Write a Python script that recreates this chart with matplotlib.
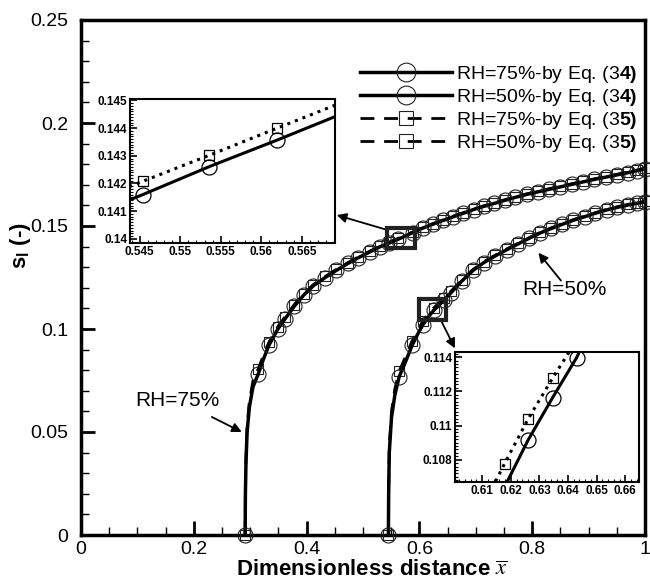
import matplotlib
matplotlib.use("Agg")
import matplotlib.pyplot as plt
from matplotlib.patches import Rectangle
from matplotlib.ticker import MultipleLocator, FuncFormatter

plt.rcParams['font.family'] = ['Liberation Sans', 'DejaVu Sans']
plt.rcParams['mathtext.fontset'] = 'custom'
plt.rcParams['mathtext.rm'] = 'Liberation Sans'
plt.rcParams['mathtext.bf'] = 'Liberation Sans:bold'
plt.rcParams['mathtext.it'] = 'Liberation Sans:italic'

# ---- main curves ----
x75 = [0.291, 0.2915, 0.2925, 0.2945, 0.2985, 0.305, 0.314, 0.323, 0.333, 0.349,
       0.362, 0.378, 0.395, 0.412, 0.433, 0.453, 0.473, 0.491, 0.512, 0.530,
       0.5454, 0.5536, 0.5619, 0.570, 0.588, 0.606, 0.624, 0.642, 0.660, 0.678,
       0.696, 0.714, 0.733, 0.752, 0.770, 0.790, 0.810, 0.830, 0.850, 0.870,
       0.890, 0.910, 0.930, 0.950, 0.970, 0.985, 1.000]
y75_eq34 = [0.0, 0.020, 0.035, 0.050, 0.062, 0.072, 0.078, 0.085, 0.092, 0.100,
            0.105, 0.111, 0.1165, 0.121, 0.1250, 0.1285, 0.1318, 0.1345, 0.1374, 0.1399,
            0.1416, 0.1426, 0.14356, 0.1445, 0.1468, 0.1490, 0.1509, 0.1527, 0.1545, 0.1562,
            0.1580, 0.1595, 0.1610, 0.1625, 0.1639, 0.1653, 0.1666, 0.1678, 0.1690, 0.1702,
            0.1714, 0.1726, 0.1737, 0.1748, 0.1759, 0.1768, 0.1778]
y75_eq35 = [0.0, 0.022, 0.038, 0.053, 0.065, 0.075, 0.0805, 0.087, 0.0935, 0.1012,
            0.106, 0.1118, 0.1172, 0.1216, 0.1255, 0.1290, 0.1322, 0.1349, 0.1378, 0.1403,
            0.14208, 0.14302, 0.14399, 0.1449, 0.1471, 0.1493, 0.1512, 0.1530, 0.1548, 0.1565,
            0.1583, 0.1598, 0.1613, 0.1628, 0.1642, 0.1656, 0.1669, 0.1681, 0.1693, 0.1705,
            0.1717, 0.1729, 0.1740, 0.1751, 0.1762, 0.1771, 0.1781]
marks75 = [0, 6, 8, 9, 10, 11, 12, 13, 14, 15, 16, 17, 18, 19, 20, 22] + list(range(24, 47))

x50 = [0.545, 0.5455, 0.5466, 0.5505, 0.5565, 0.564, 0.576, 0.587, 0.597, 0.606,
       0.618, 0.626, 0.635, 0.643, 0.656, 0.675, 0.695, 0.714, 0.734, 0.755,
       0.775, 0.795, 0.814, 0.834, 0.853, 0.873, 0.893, 0.912, 0.932, 0.950,
       0.970, 0.985, 1.000]
y50_eq34 = [0.0, 0.020, 0.040, 0.057, 0.068, 0.0767, 0.0845, 0.0920, 0.0975, 0.1020,
            0.1067, 0.1092, 0.1116, 0.1140, 0.1176, 0.1232, 0.1284, 0.1322, 0.1354, 0.1385,
            0.1413, 0.1441, 0.1466, 0.1488, 0.1508, 0.1528, 0.1545, 0.1562, 0.1578, 0.1590,
            0.1602, 0.1610, 0.1617]
y50_eq35 = [0.0, 0.023, 0.043, 0.060, 0.071, 0.0795, 0.087, 0.0942, 0.0995, 0.1038,
            0.1080, 0.1104, 0.1128, 0.1150, 0.1184, 0.1238, 0.1289, 0.1326, 0.1358, 0.1389,
            0.1416, 0.1444, 0.1469, 0.1491, 0.1511, 0.1531, 0.1548, 0.1565, 0.1581, 0.1593,
            0.1605, 0.1613, 0.1620]
marks50 = [0, 5, 7, 9, 11, 13] + list(range(14, 33))

labels = ["RH=75%-by Eq. (3$\\mathbf{4)}$", "RH=50%-by Eq. (3$\\mathbf{4)}$",
          "RH=75%-by Eq. (3$\\mathbf{5)}$", "RH=50%-by Eq. (3$\\mathbf{5)}$"]

# ---- inset data ----
in1_x34 = [0.540, 0.5454, 0.5536, 0.5619, 0.570]
in1_y34 = [0.14096, 0.1416, 0.14261, 0.14356, 0.14452]
in1_x35 = [0.540, 0.5454, 0.5536, 0.5619, 0.570]
in1_y35 = [0.14145, 0.14208, 0.14302, 0.14399, 0.14493]

in2_x34 = [0.6175, 0.6186, 0.6261, 0.6346, 0.6430, 0.6445]
in2_y34 = [0.1063, 0.10667, 0.10917, 0.11163, 0.11397, 0.1145]
in2_x35 = [0.6135, 0.6145, 0.6178, 0.6261, 0.6346, 0.6415]
in2_y35 = [0.1063, 0.10668, 0.10777, 0.1104, 0.11277, 0.1146]

fmt = FuncFormatter(lambda v, p: "%g" % round(v, 6))

fig = plt.figure(figsize=(6.5, 5.8), dpi=100)
ax = fig.add_axes([81 / 650, 45 / 580, 564 / 650, 515 / 580])

ms_c, ms_s = 10.8, 7.5
dash = (0, (5, 3.5))
l1, = ax.plot(x75, y75_eq34, '-', color='k', lw=2.5, marker='o', ms=ms_c, mfc='none',
              mec='#222222', mew=0.8, markevery=marks75, zorder=4, clip_on=False)
l2, = ax.plot(x50, y50_eq34, '-', color='k', lw=2.5, marker='o', ms=ms_c, mfc='none',
              mec='#222222', mew=0.8, markevery=marks50, zorder=4, clip_on=False)
l3, = ax.plot(x75, y75_eq35, color='k', ls=dash, lw=2, marker='s', ms=ms_s, mfc='none',
              mec='#222222', mew=0.8, markevery=marks75, zorder=3, clip_on=False)
l4, = ax.plot(x50, y50_eq35, color='k', ls=dash, lw=2, marker='s', ms=ms_s, mfc='none',
              mec='#222222', mew=0.8, markevery=marks50, zorder=3, clip_on=False)

ax.set_xlim(0, 1)
ax.set_ylim(0, 0.25)
ax.xaxis.set_major_locator(MultipleLocator(0.2))
ax.xaxis.set_minor_locator(MultipleLocator(0.05))
ax.yaxis.set_major_locator(MultipleLocator(0.05))
ax.yaxis.set_minor_locator(MultipleLocator(0.01))
ax.xaxis.set_major_formatter(fmt)
ax.yaxis.set_major_formatter(fmt)
ax.tick_params(which='major', direction='in', length=10, width=2, labelsize=14)
ax.tick_params(which='minor', direction='in', length=6, width=1)
ax.tick_params(axis='y', which='major', pad=9)
ax.tick_params(axis='x', which='major', pad=4)
for s in ax.spines.values():
    s.set_linewidth(2.5)

ax.set_xlabel("Dimensionless distance $\\overline{x}$", fontsize=16, fontweight='bold',
              math_fontfamily='stix')
ax.xaxis.set_label_coords(0.516, -0.047)
ax.set_ylabel("$\\mathbf{s_l}$ (-)", fontsize=16, fontweight='bold')
ax.yaxis.set_label_coords(-0.085, 0.561)

leg = ax.legend([l1, l2, l3, l4], labels, loc='upper right', bbox_to_anchor=(1.003, 0.933),
                frameon=False, fontsize=14, handlelength=4.7, handletextpad=0.2,
                labelspacing=0.1, borderpad=0, markerscale=1.25)

# zoom boxes and arrows
ax.add_patch(Rectangle((0.543, 0.1393), 0.049, 0.0097, fill=False, lw=3, color='#222222', zorder=6))
ax.add_patch(Rectangle((0.599, 0.1044), 0.048, 0.0102, fill=False, lw=3, color='#222222', zorder=6))
arr = dict(arrowstyle='-|>', lw=1.3, color='k', mutation_scale=14, shrinkA=0, shrinkB=0)
ax.annotate('', xy=(0.4534, 0.1553), xytext=(0.539, 0.1484), arrowprops=arr)
ax.annotate('', xy=(0.663, 0.0906), xytext=(0.6395, 0.1035), arrowprops=arr)
ax.text(0.17, 0.0655, "RH=75%", fontsize=15, ha='center', va='center')
ax.annotate('', xy=(0.285, 0.050), xytext=(0.232, 0.0573), arrowprops=arr)
ax.text(0.858, 0.1194, "RH=50%", fontsize=15, ha='center', va='center')
ax.annotate('', xy=(0.811, 0.137), xytext=(0.851, 0.1235), arrowprops=arr)


def style_inset(a):
    for s in a.spines.values():
        s.set_linewidth(1.5)
    a.tick_params(which='major', direction='in', length=5, width=1.2, labelsize=8.5, pad=2)
    a.tick_params(which='minor', direction='in', length=2.5, width=0.8)
    a.xaxis.set_major_formatter(fmt)
    a.yaxis.set_major_formatter(fmt)
    plt.setp(a.get_xticklabels(), fontweight='bold')
    plt.setp(a.get_yticklabels(), fontweight='bold')


# inset 1
ax1 = fig.add_axes([130 / 650, (580 - 243) / 580, 205 / 650, 144 / 580])
ax1.plot(in1_x34, in1_y34, '-', color='k', lw=2.2, marker='o', ms=ms_c, mfc='none',
         mec='k', mew=0.9, markevery=[1, 2, 3])
ax1.plot(in1_x35, in1_y35, ':', color='k', lw=2.2, marker='s', ms=ms_s, mfc='none',
         mec='k', mew=0.9, markevery=[1, 2, 3])
ax1.set_xlim(0.5438, 0.5691)
ax1.set_ylim(0.13985, 0.14505)
ax1.xaxis.set_major_locator(MultipleLocator(0.005))
ax1.xaxis.set_minor_locator(MultipleLocator(0.001))
ax1.yaxis.set_major_locator(MultipleLocator(0.001))
ax1.yaxis.set_minor_locator(MultipleLocator(0.0001))
style_inset(ax1)

# inset 2
ax2 = fig.add_axes([455 / 650, (580 - 482) / 580, 184 / 650, 130 / 580])
ax2.plot(in2_x34, in2_y34, '-', color='k', lw=2.2, marker='o', ms=ms_c, mfc='none',
         mec='k', mew=0.9, markevery=[2, 3, 4])
ax2.plot(in2_x35, in2_y35, ':', color='k', lw=2.2, marker='s', ms=ms_s, mfc='none',
         mec='k', mew=0.9, markevery=[2, 3, 4])
ax2.set_xlim(0.6005, 0.6648)
ax2.set_ylim(0.1067, 0.1143)
ax2.xaxis.set_major_locator(MultipleLocator(0.01))
ax2.xaxis.set_minor_locator(MultipleLocator(0.002))
ax2.yaxis.set_major_locator(MultipleLocator(0.002))
ax2.yaxis.set_minor_locator(MultipleLocator(0.0002))
style_inset(ax2)

fig.savefig("out.png", dpi=100)
